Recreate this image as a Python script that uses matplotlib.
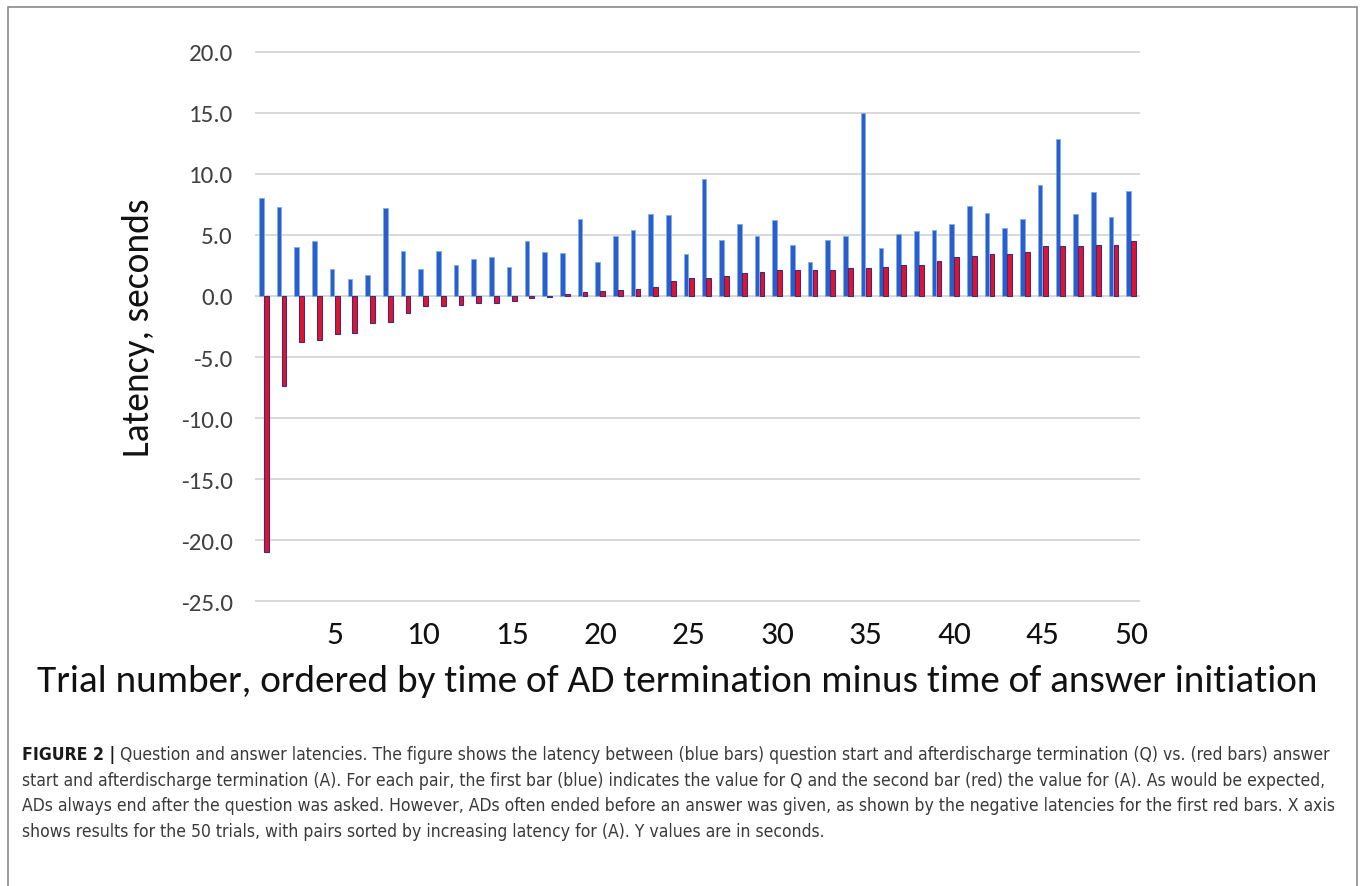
import matplotlib
matplotlib.use("Agg")
import numpy as np
from matplotlib import pyplot as plt
from matplotlib import font_manager
from matplotlib.font_manager import FontProperties
from matplotlib.patches import Rectangle

# latencias (segundos) por ensayo
ensayos = np.arange(1, 51)
latencia_q = [8.0, 7.3, 4.0, 4.5, 2.2, 1.4, 1.7, 7.2, 3.7, 2.2,
              3.7, 2.5, 3.0, 3.2, 2.4, 4.5, 3.6, 3.5, 6.3, 2.8,
              4.9, 5.4, 6.7, 6.6, 3.4, 9.6, 4.6, 5.9, 4.9, 6.2,
              4.2, 2.8, 4.6, 4.9, 15.0, 3.9, 5.1, 5.3, 5.4, 5.9,
              7.4, 6.8, 5.6, 6.3, 9.1, 12.9, 6.7, 8.5, 6.5, 8.6]
latencia_a = [-21.0, -7.4, -3.8, -3.6, -3.1, -3.0, -2.2, -2.1, -1.4, -0.8,
              -0.8, -0.7, -0.6, -0.6, -0.4, -0.2, -0.05, 0.2, 0.3, 0.4,
              0.45, 0.6, 0.7, 1.2, 1.5, 1.5, 1.6, 1.9, 2.0, 2.1,
              2.1, 2.1, 2.1, 2.3, 2.3, 2.4, 2.5, 2.5, 2.9, 3.2,
              3.3, 3.4, 3.4, 3.6, 4.1, 4.1, 4.1, 4.2, 4.2, 4.5]
ticks_x = [5, 10, 15, 20, 25, 30, 35, 40, 45, 50]
ticks_y = [-25, -20, -15, -10, -5, 0, 5, 10, 15, 20]

titulo_x = "Trial number, ordered by time of AD termination minus time of answer initiation"
titulo_y = "Latency, seconds"
nota_negrita = "FIGURE 2 |"
nota_lineas = [
    " Question and answer latencies. The figure shows the latency between (blue bars) question start and afterdischarge termination (Q) vs. (red bars) answer",
    "start and afterdischarge termination (A). For each pair, the first bar (blue) indicates the value for Q and the second bar (red) the value for (A). As would be expected,",
    "ADs always end after the question was asked. However, ADs often ended before an answer was given, as shown by the negative latencies for the first red bars. X axis",
    "shows results for the 50 trials, with pairs sorted by increasing latency for (A). Y values are in seconds.",
]

instaladas = {f.name for f in font_manager.fontManager.ttflist}
fuente_graf = 'Carlito' if 'Carlito' in instaladas else 'Lato'


def buscar_angosta(negrita):
    # busca una sans angosta/condensada entre los archivos instalados
    for f in font_manager.fontManager.ttflist:
        nombre = f.fname.lower()
        if not ('narrow' in nombre or 'condensed' in nombre):
            continue
        if 'sans' not in f.name.lower() and 'roboto' not in f.name.lower():
            continue
        if 'italic' in nombre or 'oblique' in nombre or 'light' in nombre:
            continue
        es_negrita = 'bold' in nombre
        if es_negrita == negrita:
            return FontProperties(fname=f.fname)
    return FontProperties(family='Liberation Sans', weight='bold' if negrita else 'normal')


prop_nota = buscar_angosta(False)
prop_nota_b = buscar_angosta(True)

plt.rcParams['axes.unicode_minus'] = False
plt.rcParams['font.family'] = [fuente_graf, 'DejaVu Sans']

W, H = 1360, 887
fig = plt.figure(figsize=(W / 100, H / 100), dpi=100)
ax = fig.add_axes([255 / W, 1 - 604 / H, 885 / W, 553 / H])

ax.bar(ensayos - 0.14, latencia_q, width=0.26, color='#2c5ecb',
       edgecolor='#7db0f2', linewidth=0.6, zorder=3)
ax.bar(ensayos + 0.14, latencia_a, width=0.27, color='#e3132d',
       edgecolor='#3d2c7e', linewidth=0.8, zorder=3)

ax.set_xlim(0.5, 50.5)
ax.set_ylim(-25.15, 20.15)
ax.set_yticks(ticks_y)
ax.set_yticklabels([f"{v:.1f}" for v in ticks_y])
ax.set_xticks(ticks_x)
ax.tick_params(length=0)
ax.tick_params(axis='y', pad=16, labelsize=18, labelcolor='#404040')
ax.tick_params(axis='x', pad=12, labelsize=24, labelcolor='#111111')
ax.grid(axis='y', color='#d6d6d6', linewidth=1.3, zorder=0)
for lado in ax.spines.values():
    lado.set_visible(False)

ax.set_ylabel(titulo_y, fontsize=27, color='#111111')
ax.yaxis.set_label_coords(-0.113, 0.5)

fig.text(677 / W, 1 - 682 / H, titulo_x, fontsize=28.3, color='#111111',
         ha='center', va='center')

# marco gris alrededor de la figura
fig.patches.append(Rectangle((8 / W, -0.05), 1349 / W, 1.05 - 8 / H,
                             transform=fig.transFigure, fill=False,
                             edgecolor='#8a8a8a', linewidth=1.2))

# epigrafe: ajustar el tamano para que la primera linea llegue al margen
r = fig.canvas.get_renderer()
prueba_b = fig.text(0, 0, nota_negrita, fontproperties=prop_nota_b, fontsize=10)
prueba_n = fig.text(0, 0, nota_lineas[0], fontproperties=prop_nota, fontsize=10)
ancho = prueba_b.get_window_extent(r).width + prueba_n.get_window_extent(r).width
prueba_b.remove()
prueba_n.remove()
tam = 10 * (1333 - 22) / ancho

ys = [755, 781, 806, 832]
for i, (linea, y) in enumerate(zip(nota_lineas, ys)):
    x0 = 22
    if i == 0:
        tb = fig.text(x0 / W, 1 - y / H, nota_negrita, fontproperties=prop_nota_b,
                      fontsize=tam, color='#1a1a1a', va='center')
        x0 = x0 + tb.get_window_extent(r).width
    fig.text(x0 / W, 1 - y / H, linea, fontproperties=prop_nota, fontsize=tam,
             color='#3a3a3a', va='center')

fig.savefig('out.png', dpi=100)
